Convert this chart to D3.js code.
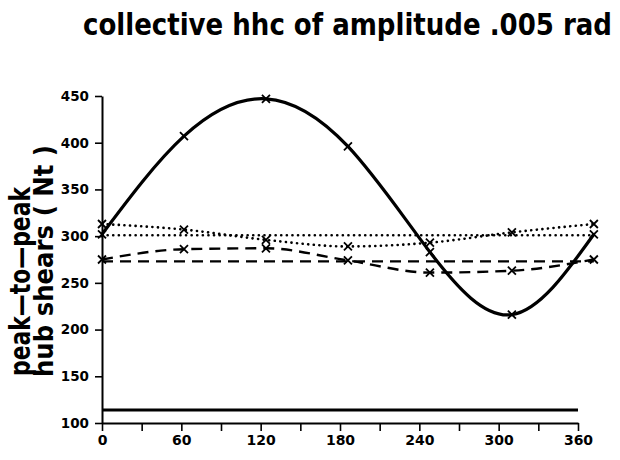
<!DOCTYPE html>
<html><head><meta charset="utf-8">
<script src="https://cdn.jsdelivr.net/npm/d3@7"></script>
<style>
html,body{margin:0;padding:0;background:#fff;}
svg{display:block;}
text{font-family:"DejaVu Sans",sans-serif;font-weight:bold;fill:#000;}
</style></head>
<body>
<script>
const titleText = "collective hhc of amplitude .005 rad";
const yLabel1 = "peak\u2014to\u2014peak";
const yLabel2 = "hub shears ( Nt )";
const angles = [0, 60, 120, 180, 240, 300, 360];
const solidVals = [302, 407, 447, 396, 283, 216, 302];
const dotMarkVals = [313, 307, 296, 289, 293, 304, 313];
const dotFlatVals = [301, 301, 301, 301, 301, 301, 301];
const dashMarkVals = [275, 286, 287, 274, 261, 263, 275];
const dashFlatVals = [273, 273, 273, 273, 273, 273, 273];
const baseAngles = [0, 360];
const baseVals = [114, 114];
const xTicks = [0, 30, 60, 90, 120, 150, 180, 210, 240, 270, 300, 330, 360];
const xTickLabels = [0, 60, 120, 180, 240, 300, 360];
const yTicks = [100, 150, 200, 250, 300, 350, 400, 450];

const W = 620, H = 460;
const svg = d3.select("body").append("svg").attr("width", W).attr("height", H);

const x0 = 102, x1 = 578;
const x = d3.scaleLinear().domain([0, 360]).range([x0, x1]);
// curves in the original are drawn slightly stretched past the axis end
const xc = d3.scaleLinear().domain([0, 360]).range([x0, x0 + (x1 - x0) * 372 / 360]);
const y = d3.scaleLinear().domain([100, 450]).range([423, 96]);

// title
svg.append("text")
  .attr("transform", "translate(83,35) scale(1,1.25)")
  .attr("font-size", 24)
  .attr("textLength", 529).attr("lengthAdjust", "spacingAndGlyphs")
  .text(titleText);

// y label
svg.append("text")
  .attr("transform", "translate(29.5,376) rotate(-90) scale(1,1.2)")
  .attr("font-size", 23)
  .attr("textLength", 189).attr("lengthAdjust", "spacingAndGlyphs")
  .text(yLabel1);
svg.append("text")
  .attr("transform", "translate(53,377) rotate(-90) scale(1,1.2)")
  .attr("font-size", 22)
  .attr("textLength", 232).attr("lengthAdjust", "spacingAndGlyphs")
  .text(yLabel2);

// axes
const xAxis = d3.axisBottom(x).tickValues(xTicks).tickSize(8).tickSizeOuter(0)
  .tickFormat(d => xTickLabels.includes(d) ? d : "");
const gx = svg.append("g").attr("transform", `translate(0,${y(100)})`).call(xAxis);
gx.select(".domain").attr("stroke", "#000").attr("stroke-width", 2);
gx.selectAll(".tick line").attr("stroke", "#000").attr("stroke-width", 1.6);
gx.selectAll(".tick text").attr("font-size", 14).attr("font-family", "DejaVu Sans")
  .attr("font-weight", "bold").attr("y", 12).attr("dy", "0.71em");

const yAxis = d3.axisLeft(y).tickValues(yTicks).tickSize(7).tickSizeOuter(0);
const gy = svg.append("g").attr("transform", `translate(${x0},0)`).call(yAxis);
gy.select(".domain").attr("stroke", "#000").attr("stroke-width", 2);
gy.selectAll(".tick line").attr("stroke", "#000").attr("stroke-width", 1.6);
gy.selectAll(".tick text").attr("font-size", 13.5).attr("font-family", "DejaVu Sans")
  .attr("font-weight", "bold").attr("x", -13);

// lines
function series(vals, curve) {
  return angles.map((a, i) => ({a, v: vals[i]}));
}
const lineC = (curve) => d3.line().x(d => xc(d.a)).y(d => y(d.v)).curve(curve);

const plot = svg.append("g").attr("fill", "none").attr("stroke", "#000");

plot.append("path").datum(series(dotFlatVals)).attr("d", lineC(d3.curveLinear))
  .attr("stroke-width", 2.6).attr("stroke-dasharray", "0.1,5.5").attr("stroke-linecap", "round");
plot.append("path").datum(series(dotMarkVals)).attr("d", lineC(d3.curveMonotoneX))
  .attr("stroke-width", 2.6).attr("stroke-dasharray", "0.1,5.5").attr("stroke-linecap", "round");
plot.append("path").datum(series(dashFlatVals)).attr("d", lineC(d3.curveLinear))
  .attr("stroke-width", 2.4).attr("stroke-dasharray", "11,7");
plot.append("path").datum(series(dashMarkVals)).attr("d", lineC(d3.curveMonotoneX))
  .attr("stroke-width", 2.4).attr("stroke-dasharray", "11,7");
plot.append("path").datum(series(solidVals)).attr("d", lineC(d3.curveNatural))
  .attr("stroke-width", 3.2);

// baseline
plot.append("path").datum(baseAngles.map((a, i) => ({a, v: baseVals[i]})))
  .attr("d", d3.line().x(d => x(d.a)).y(d => y(d.v)))
  .attr("stroke-width", 3);

// markers
const s = 4;
[solidVals, dotMarkVals, dashMarkVals].forEach(vals => {
  plot.selectAll(null).data(series(vals)).enter().append("path")
    .attr("d", d => {
      const cx = xc(d.a), cy = y(d.v);
      return `M${cx - s},${cy - s}L${cx + s},${cy + s}M${cx - s},${cy + s}L${cx + s},${cy - s}`;
    })
    .attr("stroke-width", 1.8);
});
</script>
</body></html>
